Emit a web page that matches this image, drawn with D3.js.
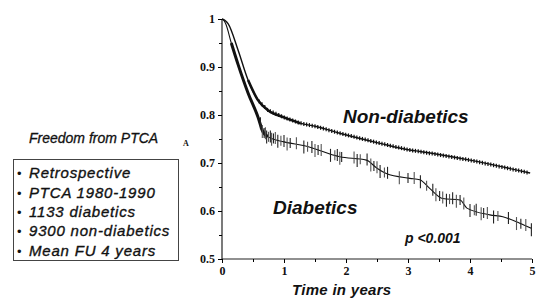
<!DOCTYPE html>
<html><head><meta charset="utf-8">
<script src="https://cdn.jsdelivr.net/npm/d3@7"></script>
<style>body{margin:0;background:#fff;} svg{display:block;}</style>
</head><body>
<svg id="c" width="542" height="300"></svg>
<script>
// Data
const nonDiabTime = [0, 0.05, 0.1, 0.26, 0.42, 0.58, 0.74, 1.0, 1.26, 1.52, 1.9, 2.55, 3.03, 3.19, 4.0, 4.97];
const nonDiabSurv = [1, 0.997, 0.99, 0.935, 0.873, 0.831, 0.81, 0.795, 0.783, 0.776, 0.762, 0.741, 0.727, 0.724, 0.706, 0.679];
const diabTime = [0, 0.03, 0.06, 0.15, 0.26, 0.42, 0.58, 0.66, 0.74, 1.0, 1.33, 1.9, 2.33, 2.5, 2.65, 3.03, 3.19, 3.35, 3.56, 3.84, 3.95, 4.32, 4.53, 4.81, 4.99];
const diabSurv = [1, 0.997, 0.99, 0.95, 0.905, 0.846, 0.796, 0.765, 0.755, 0.744, 0.736, 0.713, 0.706, 0.689, 0.678, 0.668, 0.665, 0.647, 0.626, 0.623, 0.606, 0.592, 0.588, 0.574, 0.564];
const diabCensor = [0.62,0.65,0.68,0.7,0.72,0.75,0.78,0.8,0.83,0.86,0.9,0.95,1.0,1.05,1.1,1.2,1.32,1.38,1.45,1.5,1.55,1.6,1.75,1.82,1.86,1.9,1.93,2.13,2.18,2.23,2.34,2.4,2.45,2.5,2.55,2.62,2.67,2.86,3.0,3.1,3.2,3.3,3.4,3.45,3.51,3.56,3.62,3.67,3.72,3.78,3.84,3.9,4.0,4.07,4.1,4.18,4.22,4.28,4.38,4.45,4.62,4.75,4.82,4.9,4.99];
const nonDiabCensorStep = 0.045;
const yTicks = [0.5, 0.6, 0.7, 0.8, 0.9, 1];
const yTickLabels = ["0.5", "0.6", "0.7", "0.8", "0.9", "1"];
const xTicks = [0, 1, 2, 3, 4, 5];
const xTickLabels = ["0", "1", "2", "3", "4", "5"];
const boxLines = ["Retrospective", "PTCA 1980-1990", "1133 diabetics", "9300 non-diabetics", "Mean FU 4 years"];

const svg = d3.select("#c");
const x = d3.scaleLinear().domain([0, 5]).range([222, 532]);
const y = d3.scaleLinear().domain([0.5, 1]).range([259, 19]);
const serif = "'Liberation Serif','Times New Roman',serif";
const sans = "'Liberation Sans',Arial,sans-serif";

// Axes
const yAxis = d3.axisLeft(y).tickValues(yTicks).tickFormat((d,i)=>yTickLabels[i]).tickSize(4).tickPadding(3);
const gy = svg.append("g").attr("transform", "translate(222,0)").call(yAxis);
gy.select(".domain").attr("stroke", "#222").attr("stroke-width", 1.2).attr("d", "M0," + y(1) + "V" + y(0.5));
gy.selectAll("text").attr("font-family", serif).attr("font-weight", "bold").attr("font-size", 12).attr("fill", "#111");
const yMinor = d3.axisLeft(y).tickValues(d3.range(0.55, 1, 0.1)).tickSize(3).tickFormat("");
const gym = svg.append("g").attr("transform", "translate(222,0)").call(yMinor);
gym.select(".domain").remove();

const xAxis = d3.axisBottom(x).tickValues(xTicks).tickFormat((d,i)=>xTickLabels[i]).tickSize(4).tickPadding(3);
const gx = svg.append("g").attr("transform", "translate(0,259)").call(xAxis);
gx.select(".domain").attr("stroke", "#222").attr("stroke-width", 1.2).attr("d", "M" + x(0) + ",0H" + x(5));
gx.selectAll("text").attr("font-family", serif).attr("font-weight", "bold").attr("font-size", 12).attr("fill", "#111");
const xMinor = d3.axisBottom(x).tickValues(d3.range(0.5, 5, 1)).tickSize(3).tickFormat("");
const gxm = svg.append("g").attr("transform", "translate(0,259)").call(xMinor);
gxm.select(".domain").remove();

// Curves
const line = d3.line().x(d => x(d[0])).y(d => y(d[1])).curve(d3.curveMonotoneX);
const nd = nonDiabTime.map((t,i)=>[t, nonDiabSurv[i]]);
const dd = diabTime.map((t,i)=>[t, diabSurv[i]]);
svg.append("path").attr("d", line(nd)).attr("fill","none").attr("stroke","#111").attr("stroke-width",1.4);
svg.append("path").attr("d", line(dd)).attr("fill","none").attr("stroke","#111").attr("stroke-width",1.1);

const interp = (times, surv, t) => {
  const i = Math.max(1, d3.bisectRight(times, t));
  const j = Math.min(i, times.length-1);
  const t0 = times[j-1], t1 = times[j];
  const f = t1===t0 ? 0 : (t - t0)/(t1 - t0);
  return surv[j-1] + f*(surv[j]-surv[j-1]);
};

// non-diabetic dense censor marks (thickening)
const ndCens = d3.range(0.6, 4.95, nonDiabCensorStep);
svg.append("g").selectAll("line").data(ndCens).join("line")
  .attr("x1", d=>x(d)).attr("x2", d=>x(d))
  .attr("y1", d=>y(interp(nonDiabTime, nonDiabSurv, d))-2)
  .attr("y2", d=>y(interp(nonDiabTime, nonDiabSurv, d))+2)
  .attr("stroke", "#111").attr("stroke-width", 1.2);
svg.append("path").attr("d", line(nd.filter(d=>d[0]>=0.42 && d[0]<=1.3))).attr("fill","none").attr("stroke","#111").attr("stroke-width",2.6);
svg.append("path").attr("d", line(dd.filter(d=>d[0]>=0.15 && d[0]<=0.74))).attr("fill","none").attr("stroke","#111").attr("stroke-width",3);

// diabetic censor ticks
svg.append("g").selectAll("line").data(diabCensor).join("line")
  .attr("x1", d=>x(d)).attr("x2", d=>x(d))
  .attr("y1", (d,i)=>y(interp(diabTime, diabSurv, d)) - (i%3===0?7:5))
  .attr("y2", (d,i)=>y(interp(diabTime, diabSurv, d)) + (i%3===1?8:5))
  .attr("stroke", (d,i)=> i%2 ? "#555" : "#222").attr("stroke-width", 1.1);

const bi = (sel) => sel.attr("font-family", sans).attr("font-weight","bold").attr("font-style","italic").attr("fill","#111");
// Labels
bi(svg.append("text")).attr("x", 343).attr("y", 123).attr("font-size", 19).text("Non-diabetics");
bi(svg.append("text")).attr("x", 273).attr("y", 214).attr("font-size", 19).text("Diabetics");
bi(svg.append("text")).attr("x", 405).attr("y", 243).attr("font-size", 14).text("p <0.001");
bi(svg.append("text")).attr("x", 292).attr("y", 294.5).attr("font-size", 15).attr("letter-spacing", 0.3).text("Time in years");

svg.append("text").attr("x", 29).attr("y", 143).attr("font-family", sans).attr("font-style","italic").attr("font-size", 14)
  .attr("fill","#111").attr("stroke","#111").attr("stroke-width",0.3).text("Freedom from PTCA");
svg.append("text").attr("x", 183).attr("y", 146).attr("font-family", serif).attr("font-weight","bold").attr("font-size", 8).attr("fill","#111").text("A");

// Box
svg.append("rect").attr("x", 13.5).attr("y", 159.5).attr("width", 165).attr("height", 101).attr("fill","none").attr("stroke","#444").attr("stroke-width",1);
const rows = svg.append("g").selectAll("g").data(boxLines).join("g")
  .attr("transform", (d,i)=>"translate(0," + (178.3 + i*19.3) + ")");
rows.append("text").attr("x", 17).attr("y", 0).attr("font-family", sans).attr("font-size", 13).attr("fill","#111").text("\u2022");
rows.append("text").attr("x", 29).attr("y", 0)
  .attr("font-family", sans).attr("font-style","italic").attr("font-size", 15).attr("letter-spacing", 0.8).attr("fill","#111")
  .attr("stroke","#111").attr("stroke-width",0.35)
  .text(d => d);
</script>
</body></html>
